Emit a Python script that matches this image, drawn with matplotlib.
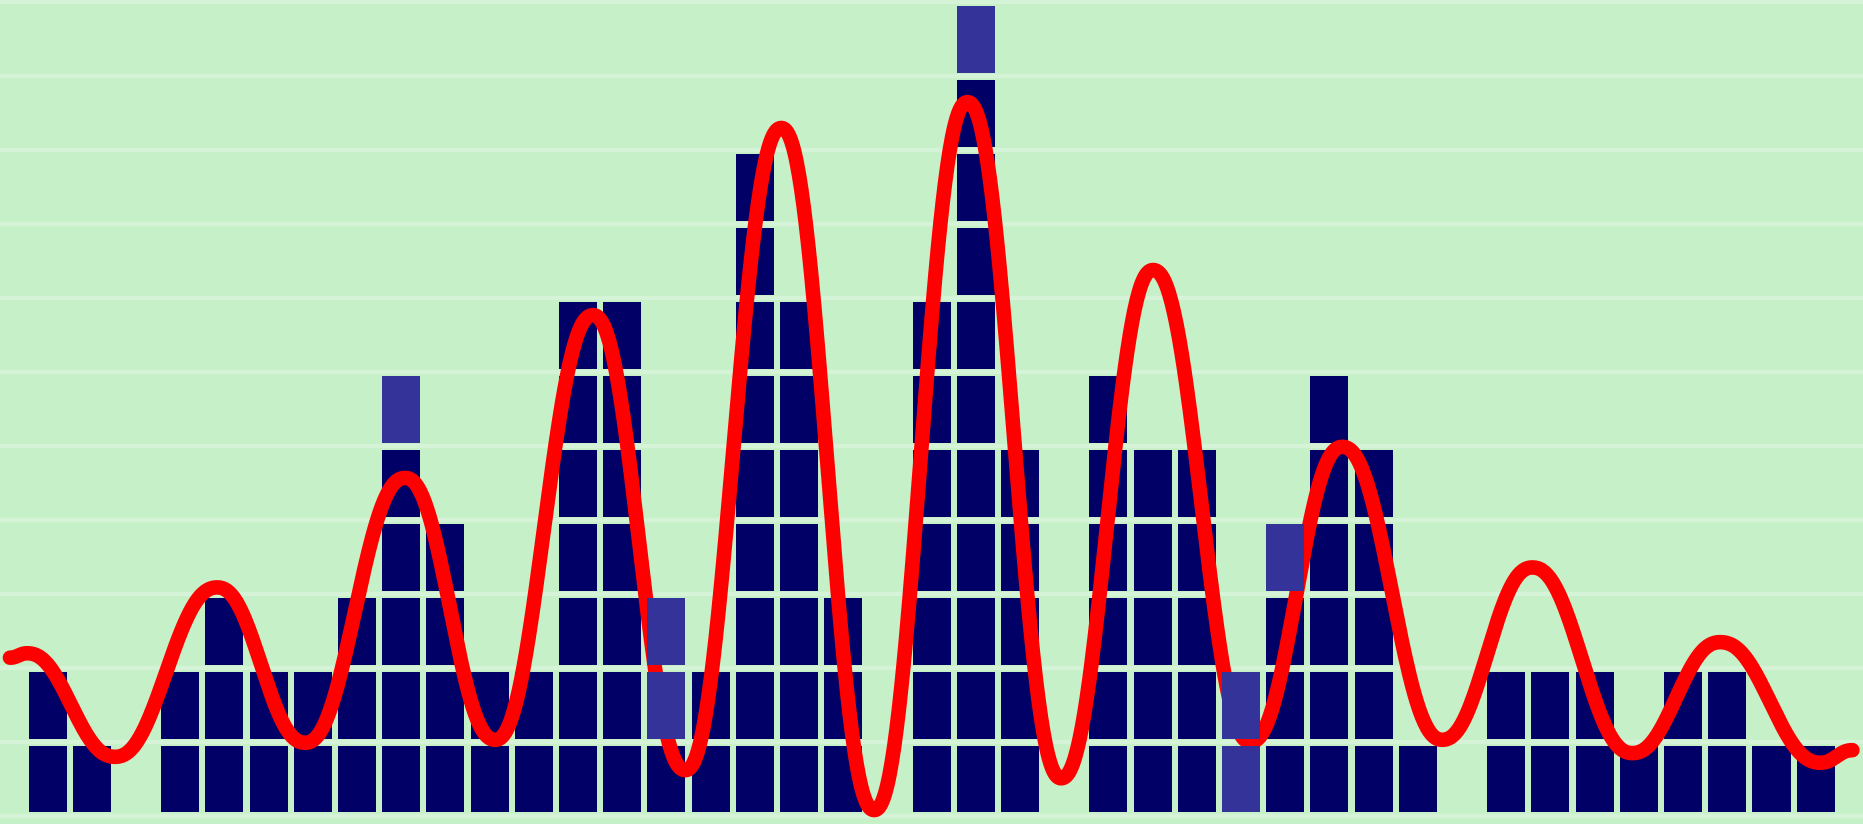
import numpy as np
import matplotlib
matplotlib.use('Agg')
import matplotlib.pyplot as plt

# stacked unit blocks per column
dark_counts = [2, 1, 0, 2, 3, 2, 2, 3, 5, 4, 2, 2, 7, 7, 1, 2, 9, 7, 3, 0,
               7, 10, 5, 0, 6, 5, 5, 0, 3, 6, 5, 1, 0, 2, 2, 2, 1, 2, 2, 1, 1]
# lighter blocks stacked on top of the dark ones
light_counts = [0, 0, 0, 0, 0, 0, 0, 0, 1, 0, 0, 0, 0, 0, 2, 0, 0, 0, 0, 0,
                0, 1, 0, 0, 0, 0, 0, 2, 1, 0, 0, 0, 0, 0, 0, 0, 0, 0, 0, 0, 0]

# turning points of the red wave (column position, height)
wave_x = [-0.85, -0.46, 1.53, 3.84, 5.83, 8.09, 10.13, 12.34, 14.43, 16.60, 18.70,
          20.81, 22.93, 25.01, 27.21, 29.29, 31.55, 33.59, 35.85, 37.84, 40.11, 40.83]
wave_y = [2.14, 2.20, 0.80, 3.09, 0.99, 4.57, 1.03, 6.77, 0.62, 9.30, 0.08,
          9.65, 0.51, 7.38, 1.00, 4.99, 1.03, 3.36, 0.85, 2.35, 0.72, 0.89]

BG = '#c6f0c8'
GRID = '#d5f3d7'
DARK = '#000066'
LIGHT = '#333399'


def smooth_through(xs, ys, n=80):
    # eased segments, flat at each turning point, rounder crests
    out_x, out_y = [], []
    for x0, x1, y0, y1 in zip(xs[:-1], xs[1:], ys[:-1], ys[1:]):
        t = np.linspace(0, 1, n)
        s_cos = (1 - np.cos(np.pi * t)) / 2
        s_5 = t**3 * (t * (6 * t - 15) + 10)
        s = 0.5 * s_cos + 0.5 * s_5
        out_x.append(x0 + (x1 - x0) * t)
        out_y.append(y0 + (y1 - y0) * s)
    return np.concatenate(out_x), np.concatenate(out_y)


def block_positions(counts, base=None):
    xs, bottoms = [], []
    for col, c in enumerate(counts):
        start = 0 if base is None else base[col]
        for k in range(start, start + c):
            xs.append(col)
            bottoms.append(k)
    return np.array(xs), np.array(bottoms)


fig = plt.figure(figsize=(18.63, 8.24), dpi=100, facecolor=BG)
ax = fig.add_axes([0, 0, 1, 1])
ax.set_facecolor(BG)

for lvl in range(0, 12):
    ax.axhline(lvl, color=GRID, lw=3.2, zorder=0)

bw, bh = 0.86, 0.905
dx, db = block_positions(dark_counts)
ax.bar(dx, bh, bottom=db + (1 - bh) / 2, width=bw, color=DARK, linewidth=0, zorder=2)

lx, lb = block_positions(light_counts, base=dark_counts)
ax.bar(lx, bh, bottom=lb + (1 - bh) / 2, width=bw, color=LIGHT, linewidth=0, zorder=4)

cx, cy = smooth_through(wave_x, wave_y)
ax.plot(cx, cy, color='#ff0000', lw=10.5, solid_capstyle='round', zorder=3)

ax.set_xlim(-1.075, 41.07)
ax.set_ylim(-0.108, 11.03)
ax.set_xticks([])
ax.set_yticks([])
for sp in ax.spines.values():
    sp.set_visible(False)

fig.savefig('out.png', dpi=100, facecolor=BG)
